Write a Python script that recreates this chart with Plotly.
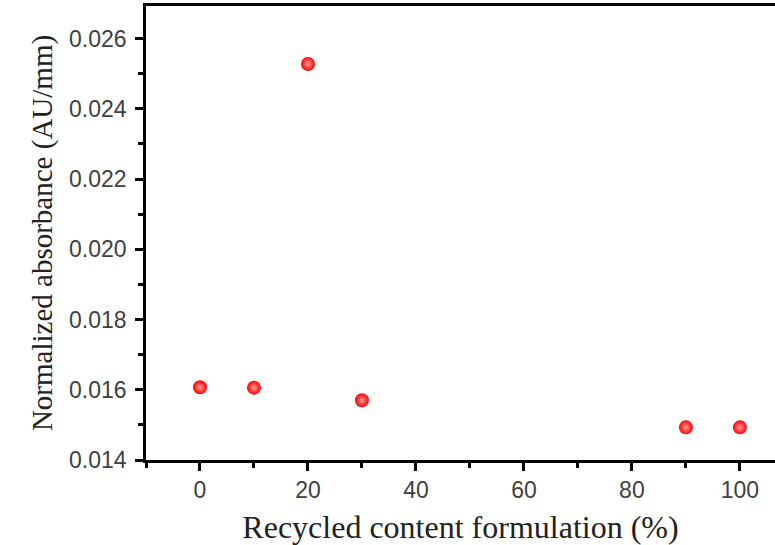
import plotly.graph_objects as go

x_vals = [0, 10, 20, 30, 90, 100]
y_vals = [0.01607, 0.01606, 0.02528, 0.01570, 0.01493, 0.01493]

x_title = "Recycled content formulation (%)"
y_title = "Normalized absorbance (AU/mm)"

fig = go.Figure()
fig.add_trace(go.Scatter(
    x=x_vals, y=y_vals, mode="markers",
    marker=dict(size=14, color="#ff0000",
                gradient=dict(type="radial", color="#ff9a9a"),
                line=dict(width=0)),
    showlegend=False,
))

fig.update_layout(
    width=775, height=545,
    margin=dict(l=146, r=0, t=6, b=85),
    paper_bgcolor="white", plot_bgcolor="white",
    font=dict(family="Liberation Sans, Arial", color="#404040", size=23),
)
fig.update_xaxes(
    range=[-10, 106.5], tickvals=[0, 20, 40, 60, 80, 100],
    ticks="outside", ticklen=8, tickwidth=2.5, tickcolor="black",
    showline=True, linewidth=2.5, linecolor="black", mirror=True,
    showgrid=False, zeroline=False, automargin=False,
    minor=dict(dtick=10, tick0=0, ticks="outside", ticklen=5, tickwidth=2.5, tickcolor="black", showgrid=False),
    title=dict(text=x_title, font=dict(family="Liberation Serif, Times New Roman", size=32, color="#222222")),
    tickfont=dict(size=23, color="#404040"),
)
fig.update_yaxes(
    range=[0.014, 0.02693], tickvals=[0.014, 0.016, 0.018, 0.020, 0.022, 0.024, 0.026],
    tickformat=".3f",
    ticks="outside", ticklen=8, tickwidth=2.5, tickcolor="black",
    showline=True, linewidth=2.5, linecolor="black", mirror=False,
    showgrid=False, zeroline=False, ticklabelstandoff=4, automargin=True,
    minor=dict(dtick=0.001, tick0=0.014, ticks="outside", ticklen=5, tickwidth=2.5, tickcolor="black", showgrid=False),
    title=dict(text=y_title, font=dict(family="Liberation Serif, Times New Roman", size=29, color="#222222"), standoff=8),
    tickfont=dict(size=23, color="#404040"),
)

fig.write_html("out.html")
